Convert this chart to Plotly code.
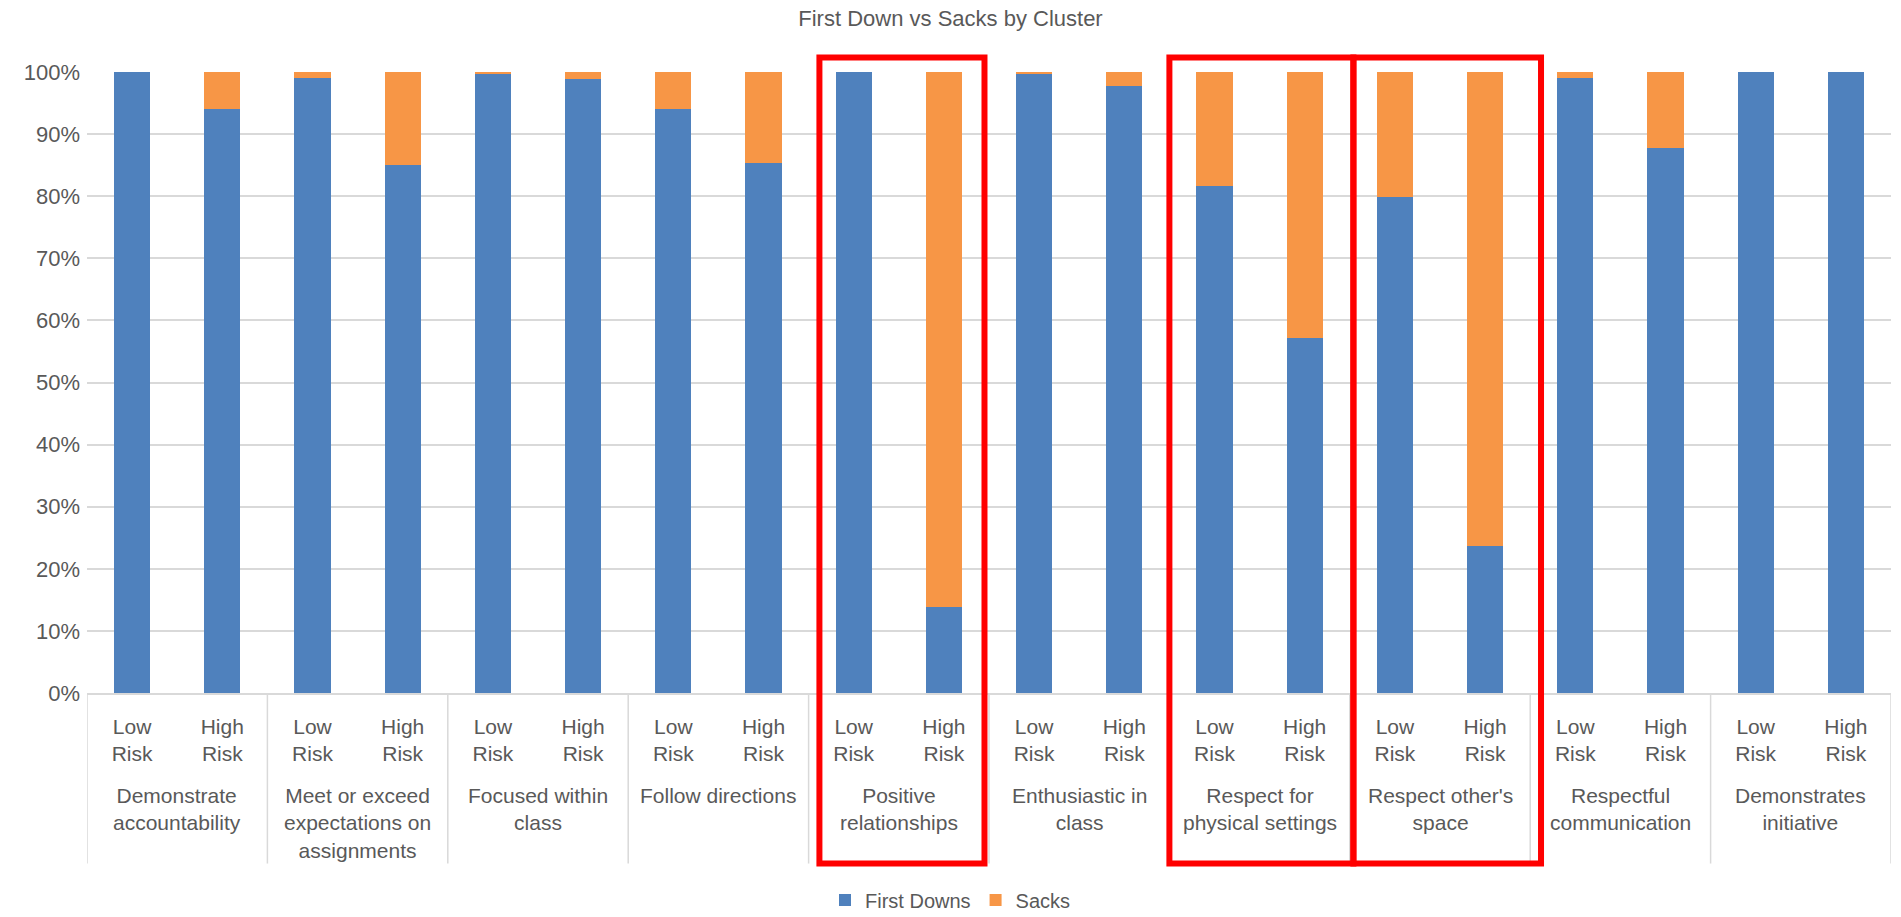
import plotly.graph_objects as go

# ---------------- data ----------------
clusters = [
    "Demonstrate<br>accountability",
    "Meet or exceed<br>expectations on<br>assignments",
    "Focused within<br>class",
    "Follow directions",
    "Positive<br>relationships",
    "Enthusiastic in<br>class",
    "Respect for<br>physical settings",
    "Respect other's<br>space",
    "Respectful<br>communication",
    "Demonstrates<br>initiative",
]
risk_levels = ["Low<br>Risk", "High<br>Risk"]

# share of First Downs (%) per cluster
first_downs_low = [100.0, 99.1, 99.8, 94.0, 100.0, 99.6, 81.6, 79.9, 99.1, 100.0]
first_downs_high = [94.0, 85.1, 98.8, 85.4, 13.9, 97.8, 57.2, 23.7, 87.7, 100.0]
# share of Sacks (%) per cluster
sacks_low = [0.0, 0.9, 0.2, 6.0, 0.0, 0.4, 18.4, 20.1, 0.9, 0.0]
sacks_high = [6.0, 14.9, 1.2, 14.6, 86.1, 2.2, 42.8, 76.3, 12.3, 0.0]

y_ticks = [0, 10, 20, 30, 40, 50, 60, 70, 80, 90, 100]

# highlighted clusters: box extent in bar units
highlight_boxes = [(7.62, 9.45), (11.5, 13.54), (13.54, 15.62)]

# ---------------- build ----------------
x_pos = []
tick_text = []
fd = []
sk = []
for i in range(len(clusters)):
    for j, lvl in enumerate(risk_levels):
        x_pos.append(2 * i + j)
        tick_text.append(lvl)
    fd.extend([first_downs_low[i] / 100, first_downs_high[i] / 100])
    sk.extend([sacks_low[i] / 100, sacks_high[i] / 100])

BLUE = "#4F81BD"
ORANGE = "#F79646"
TXT = "#595959"
GRID = "#D9D9D9"
FONT = "Liberation Sans, Arial, sans-serif"

fig = go.Figure()
fig.add_trace(go.Bar(x=x_pos, y=fd, name="First Downs", marker=dict(color=BLUE, line=dict(width=0))))
fig.add_trace(go.Bar(x=x_pos, y=sk, name="Sacks", marker=dict(color=ORANGE, line=dict(width=0))))

BOTTOM = -0.2746
TOP = 1.0233

shapes = []
for g in range(len(clusters) + 1):
    shapes.append(dict(type="line", xref="x", yref="paper", x0=2 * g - 0.5, x1=2 * g - 0.5,
                       y0=0, y1=BOTTOM, line=dict(color=GRID, width=1.5), layer="below"))
for (a, b) in highlight_boxes:
    shapes.append(dict(type="rect", xref="x", yref="paper", x0=a, x1=b, y0=BOTTOM, y1=TOP,
                       line=dict(color="#FF0000", width=6), fillcolor="rgba(0,0,0,0)", layer="above"))

annotations = []
for i, c in enumerate(clusters):
    annotations.append(dict(x=2 * i + 0.5, xref="x", y=-0.143, yref="paper", text=c,
                            showarrow=False, xanchor="center", yanchor="top",
                            font=dict(size=21, color=TXT, family=FONT), align="center"))

fig.update_layout(
    width=1901, height=917,
    margin=dict(l=87, r=10, t=72, b=224),
    barmode="stack",
    bargap=0.6,
    plot_bgcolor="white", paper_bgcolor="white",
    font=dict(family=FONT, color=TXT, size=21),
    title=dict(text="First Down vs Sacks by Cluster", x=0.5, xref="container", xanchor="center",
               y=1 - 18 / 917, yref="container", yanchor="middle",
               font=dict(size=22, color=TXT, family=FONT)),
    xaxis=dict(range=[-0.5, 19.5], tickmode="array", tickvals=x_pos, ticktext=tick_text,
               showgrid=False, zeroline=False, showline=True, linecolor=GRID, linewidth=1.5,
               ticks="", ticklabelstandoff=14, tickfont=dict(size=21, color=TXT, family=FONT),
               fixedrange=True),
    yaxis=dict(range=[0, 1], tickmode="array", tickvals=[v / 100 for v in y_ticks],
               tickformat=".0%", showgrid=True, gridcolor=GRID, gridwidth=1.5, zeroline=False,
               showline=False, ticks="", ticklabelstandoff=6,
               tickfont=dict(size=22, color=TXT, family=FONT), fixedrange=True),
    legend=dict(orientation="h", x=0.5, xref="container", xanchor="center",
                y=1 - 900 / 917, yref="container", yanchor="middle",
                font=dict(size=20, color=TXT, family=FONT), traceorder="normal"),
    shapes=shapes,
    annotations=annotations,
)

fig.write_html("out.html", config={"displayModeBar": False},
               post_script="document.body.style.margin='0';document.body.style.overflow='hidden';")
